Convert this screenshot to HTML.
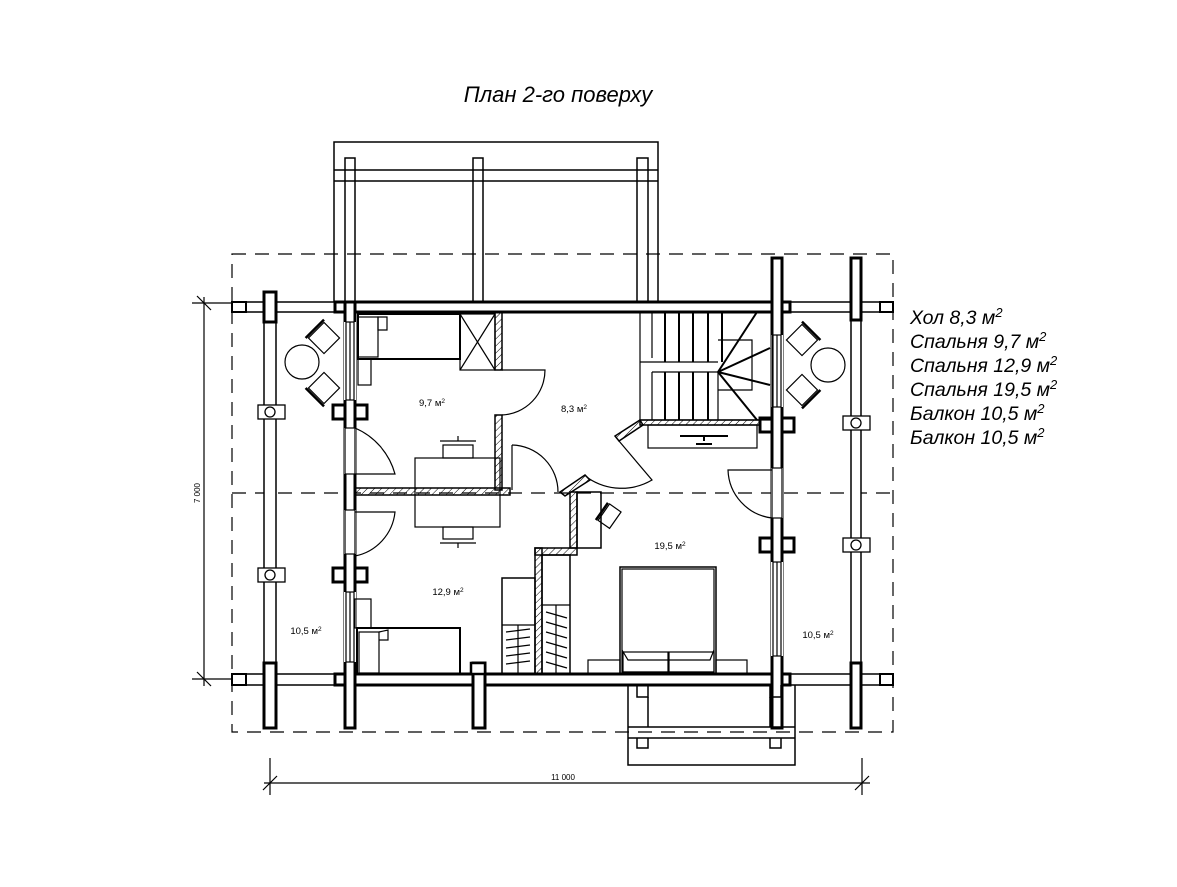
<!DOCTYPE html>
<html><head><meta charset="utf-8"><style>
html,body{margin:0;padding:0;background:#fff;}
svg{display:block;font-family:"Liberation Sans",sans-serif;}
</style></head><body>
<svg width="1177" height="887" viewBox="0 0 1177 887" xmlns="http://www.w3.org/2000/svg">
<defs>
<pattern id="h" width="5" height="5" patternUnits="userSpaceOnUse" patternTransform="rotate(45)"><line x1="0" y1="0" x2="0" y2="5" stroke="#000" stroke-width="1"/></pattern>
</defs>
<text x="558" y="102" font-size="22" font-style="italic" text-anchor="middle">План 2-го поверху</text>

<g fill="none" stroke="#000" stroke-width="1.2" stroke-dasharray="14,9">
<rect x="232" y="254" width="661" height="478"/>
<line x1="232" y1="493" x2="893" y2="493"/>
</g>

<g fill="none" stroke="#000" stroke-width="1.5">
<path d="M334 302 V142 H658 V302"/>
<line x1="334" y1="170" x2="658" y2="170"/><line x1="334" y1="181" x2="658" y2="181"/>
<path d="M345 302 V158 H355 V302"/><path d="M473 302 V158 H483 V302"/><path d="M637 302 V158 H648 V302"/>
</g>
<g fill="#fff">
<rect x="346" y="171" width="8" height="9"/><rect x="474" y="171" width="8" height="9"/><rect x="638" y="171" width="9" height="9"/>
</g>

<g fill="#fff" stroke="#000" stroke-width="1.5">
<rect x="232" y="302" width="113" height="10"/>
<rect x="782" y="302" width="111" height="10"/>
<rect x="232" y="674" width="113" height="11"/>
<rect x="782" y="674" width="111" height="11"/>
<rect x="264" y="292" width="12" height="436"/>
<rect x="851" y="258" width="10" height="470"/>
</g>
<g fill="none" stroke="#000" stroke-width="3">
<rect x="264" y="292" width="12" height="30"/><rect x="264" y="663" width="12" height="65"/>
<rect x="851" y="258" width="10" height="62"/><rect x="851" y="663" width="10" height="65"/>
<rect x="232" y="674" width="14" height="11" stroke-width="2"/><rect x="880" y="674" width="13" height="11" stroke-width="2"/>
<rect x="232" y="302" width="14" height="10" stroke-width="2"/><rect x="880" y="302" width="13" height="10" stroke-width="2"/>
</g>
<g fill="#fff" stroke="#000" stroke-width="1.3">
<rect x="258" y="405" width="27" height="14"/><circle cx="270" cy="412" r="5"/>
<rect x="258" y="568" width="27" height="14"/><circle cx="270" cy="575" r="5"/>
<rect x="843" y="416" width="27" height="14"/><circle cx="856" cy="423" r="5"/>
<rect x="843" y="538" width="27" height="14"/><circle cx="856" cy="545" r="5"/>
</g>

<g fill="#fff" stroke="#000" stroke-width="3">
<rect x="335" y="302" width="455" height="10"/>
<rect x="335" y="674" width="455" height="11"/>
<rect x="345" y="302" width="10" height="426"/>
<rect x="772" y="258" width="10" height="470" />
<rect x="473" y="663" width="12" height="65"/>
<path d="M333 405 H345 V419 H333 Z M355 405 H367 V419 H355 Z"/>
<path d="M333 568 H345 V582 H333 Z M355 568 H367 V582 H355 Z"/>
<path d="M760 418 H772 V432 H760 Z M782 418 H794 V432 H782 Z"/>
<path d="M760 538 H772 V552 H760 Z M782 538 H794 V552 H782 Z"/>
</g>
<g fill="#fff" stroke="none">
<rect x="346.5" y="304" width="7" height="6"/><rect x="346.5" y="676" width="7" height="7"/>
<rect x="773.5" y="304" width="7" height="6"/><rect x="773.5" y="676" width="7" height="7"/>
<rect x="346.5" y="406.5" width="7" height="11"/><rect x="346.5" y="569.5" width="7" height="11"/>
<rect x="773.5" y="419.5" width="7" height="11"/><rect x="773.5" y="539.5" width="7" height="11"/>
<rect x="474.5" y="676" width="9" height="7"/>
<rect x="344" y="322" width="12" height="78"/><rect x="344" y="428" width="12" height="46"/><rect x="344" y="510" width="12" height="44"/><rect x="344" y="592" width="12" height="70"/>
<rect x="771" y="335" width="12" height="72"/><rect x="771" y="468" width="12" height="50"/><rect x="771" y="562" width="12" height="94"/>
</g>
<g fill="none" stroke="#000" stroke-width="1.2">
<rect x="346" y="322" width="8" height="78"/><line x1="350" y1="322" x2="350" y2="400"/>
<rect x="346" y="592" width="8" height="70"/><line x1="350" y1="592" x2="350" y2="662"/>
<rect x="773" y="335" width="8" height="72"/><line x1="777" y1="335" x2="777" y2="407"/>
<rect x="773" y="562" width="8" height="94"/><line x1="777" y1="562" x2="777" y2="656"/>
<rect x="345" y="428" width="10" height="46"/><rect x="345" y="510" width="10" height="44"/>
<rect x="772" y="468" width="10" height="50"/>
<path d="M355 428 A70 70 0 0 1 395 474 L355 474"/>
<path d="M355 512 H395 A50 50 0 0 1 355 556"/>
<path d="M772 470 H728 A50 50 0 0 0 772 518"/>
</g>

<g fill="none" stroke="#000" stroke-width="1.5">
<path d="M628 685 V765 H795 V685"/>
<line x1="628" y1="727" x2="795" y2="727"/><line x1="628" y1="738" x2="795" y2="738"/>
<path d="M637 685 V697 H648 V685"/><path d="M770 685 V697 H781 V685"/>
<path d="M648 727 V697 M770 727 V697"/>
<path d="M637 738 V748 H648 V738 M770 738 V748 H781 V738"/>
</g>

<g stroke="#000" stroke-width="1.5">
<rect x="355" y="488" width="155" height="7" fill="url(#h)"/>
<rect x="495" y="312" width="7" height="58" fill="url(#h)"/>
<rect x="495" y="415" width="7" height="75" fill="url(#h)"/>
<rect x="570" y="492" width="7" height="56" fill="url(#h)"/>
<rect x="535" y="548" width="42" height="7" fill="url(#h)"/>
<rect x="535" y="548" width="7" height="126" fill="url(#h)"/>
<rect x="640" y="420" width="120" height="5" fill="url(#h)"/>
<polygon points="640,420 615,436 619,441 643,425" fill="url(#h)"/>
<polygon points="585,475 560,492 565,496 590,480" fill="url(#h)"/>
</g>

<g fill="none" stroke="#000" stroke-width="1.2">
<path d="M502 370 H545 A45 45 0 0 1 502 415"/>
<path d="M512 445 A47 47 0 0 1 558 492"/>
<path d="M512 445 V490"/>
<path d="M619 441 L652 480 A60 60 0 0 1 588 478"/>
<rect x="358" y="314" width="102" height="45" stroke-width="2"/>
<rect x="358" y="317" width="20" height="40"/><path d="M378 317 L387 317 L387 330 L378 330 Z"/>
<rect x="358" y="359" width="13" height="26"/>
<rect x="460" y="314" width="35" height="56"/><path d="M460 314 L495 370 M495 314 L460 370"/>
<rect x="415" y="458" width="85" height="69"/>
<rect x="443" y="445" width="30" height="13"/><path d="M440 441 H476 M458 436 V441"/>
<rect x="443" y="527" width="30" height="12"/><path d="M440 543 H476 M458 543 V548"/>
<rect x="640" y="312" width="132" height="108"/>
<path d="M640 362 H718 M652 372 H718 V420 M652 312 V358 M652 372 V420"/>
<path d="M665 312 V362 M679 312 V362 M693 312 V362 M708 312 V362 M722 312 V362 M665 372 V420 M679 372 V420 M693 372 V420 M708 372 V420" stroke-width="2"/>
<path d="M718 372 L757 312 M718 372 L770 348 M718 372 L770 385 M718 372 L757 420" stroke-width="2"/>
<path d="M718 340 H752 V390 H718"/>
<rect x="648" y="425" width="109" height="23"/>
<path d="M680 436 H728 M704 436 V441 M696 444 L712 444" stroke-width="2"/>
<rect x="577" y="492" width="24" height="56" stroke-width="1.5"/>
<g transform="rotate(35 609 517)"><rect x="602" y="506" width="14" height="20"/><line x1="600" y1="506" x2="600" y2="527" stroke-width="2.5"/></g>
<rect x="502" y="578" width="33" height="96" stroke-width="1.5"/>
<rect x="542" y="555" width="28" height="119" stroke-width="1.5"/>
<line x1="502" y1="625" x2="535" y2="625"/><line x1="518" y1="625" x2="518" y2="674"/>
<line x1="542" y1="605" x2="570" y2="605"/><line x1="556" y1="605" x2="556" y2="674"/>
<path d="M506 632 L530 629 M506 640 L530 637 M506 648 L530 645 M506 656 L530 653 M506 664 L530 661 M546 612 L567 618 M546 622 L567 628 M546 632 L567 638 M546 642 L567 648 M546 652 L567 658 M546 662 L567 668"/>
<rect x="620" y="567" width="96" height="107" stroke-width="1.5"/>
<rect x="622" y="569" width="92" height="103"/>
<path d="M622 650 L628 660 L710 660 L714 650"/>
<rect x="623" y="652" width="45" height="20"/><rect x="669" y="652" width="45" height="20"/>
<rect x="588" y="660" width="32" height="14"/><rect x="716" y="660" width="31" height="14"/>
<rect x="355" y="599" width="16" height="29"/>
<rect x="357" y="628" width="103" height="46" stroke-width="2"/>
<rect x="359" y="632" width="20" height="41"/><path d="M379 632 L388 630 L388 640 L379 640"/>
<rect x="471" y="663" width="14" height="11" stroke-width="2.5" fill="#fff"/>
<circle cx="302" cy="362" r="17"/>
<g transform="rotate(45 324 338)"><rect x="313" y="327" width="22" height="22"/><line x1="311" y1="325" x2="311" y2="351" stroke-width="2.5"/></g>
<g transform="rotate(-45 324 388)"><rect x="313" y="377" width="22" height="22"/><line x1="311" y1="375" x2="311" y2="401" stroke-width="2.5"/></g>
<circle cx="828" cy="365" r="17"/>
<g transform="rotate(135 802 340)"><rect x="791" y="329" width="22" height="22"/><line x1="789" y1="327" x2="789" y2="353" stroke-width="2.5"/></g>
<g transform="rotate(-135 802 390)"><rect x="791" y="379" width="22" height="22"/><line x1="789" y1="377" x2="789" y2="403" stroke-width="2.5"/></g>
</g>

<g stroke="#000" stroke-width="1.2">
<line x1="204" y1="297" x2="204" y2="686"/>
<line x1="192" y1="303" x2="232" y2="303"/><line x1="192" y1="679" x2="232" y2="679"/>
<line x1="197" y1="296" x2="211" y2="310"/><line x1="197" y1="672" x2="211" y2="686"/>
<line x1="264" y1="783" x2="870" y2="783"/>
<line x1="270" y1="758" x2="270" y2="795"/><line x1="862" y1="758" x2="862" y2="795"/>
<line x1="263" y1="790" x2="277" y2="776"/><line x1="855" y1="790" x2="869" y2="776"/>
</g>
<text x="200" y="493" font-size="8" text-anchor="middle" transform="rotate(-90 200 493)">7 000</text>
<text x="563" y="780" font-size="8" text-anchor="middle">11 000</text>

<g font-size="9.5" text-anchor="middle">
<text x="432" y="406">9,7 м<tspan font-size="6.5" dy="-3">2</tspan></text>
<text x="574" y="412">8,3 м<tspan font-size="6.5" dy="-3">2</tspan></text>
<text x="448" y="595">12,9 м<tspan font-size="6.5" dy="-3">2</tspan></text>
<text x="670" y="549">19,5 м<tspan font-size="6.5" dy="-3">2</tspan></text>
<text x="306" y="634">10,5 м<tspan font-size="6.5" dy="-3">2</tspan></text>
<text x="818" y="638">10,5 м<tspan font-size="6.5" dy="-3">2</tspan></text>
</g>

<g font-size="19.5" font-style="italic">
<text x="910" y="324">Хол 8,3 м<tspan font-size="13" dy="-7">2</tspan></text>
<text x="910" y="348">Спальня 9,7 м<tspan font-size="13" dy="-7">2</tspan></text>
<text x="910" y="372">Спальня 12,9 м<tspan font-size="13" dy="-7">2</tspan></text>
<text x="910" y="396">Спальня 19,5 м<tspan font-size="13" dy="-7">2</tspan></text>
<text x="910" y="420">Балкон 10,5 м<tspan font-size="13" dy="-7">2</tspan></text>
<text x="910" y="444">Балкон 10,5 м<tspan font-size="13" dy="-7">2</tspan></text>
</g>
</svg>
</body></html>
